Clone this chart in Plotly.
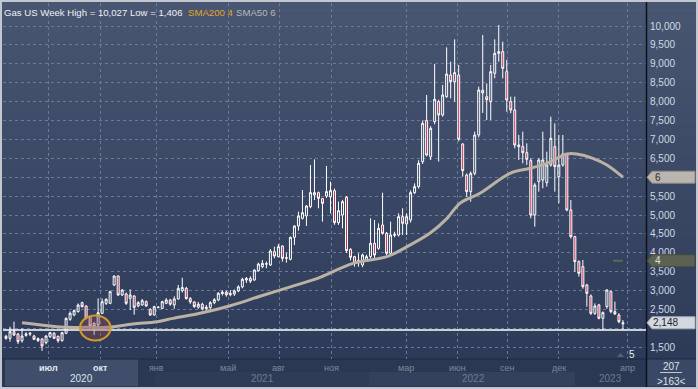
import plotly.graph_objects as go

# ---------------- data (weekly candles) ----------------
opens = [1737, 1737, 1914, 1852, 1676, 1817, 1850, 1799, 1730, 1720,
         1622, 1780, 1870, 1790, 1676, 1870, 2240, 2355, 2443, 2681,
         2593, 2310, 2134, 2090, 2399, 2663, 2663, 3148, 3386, 2884,
         2910, 2795, 2857, 2593, 2620, 2707, 2505, 2355, 2560, 2531,
         2663, 2750, 2620, 2780, 3000, 3060, 2790, 2700, 2560, 2640,
         2520, 2550, 2680, 2750, 2920, 2960, 2890, 2910, 2990, 3100,
         3280, 3320, 3280, 3527, 3633, 3700, 3677, 4030, 3898, 4180,
         3853, 3827, 4409, 4709, 4912, 4974, 5220, 5529, 5591, 5432,
         5503, 5485, 5644, 4798, 5000, 5468, 4092, 3898, 3790, 3678,
         3810, 3898, 4251, 4119, 4736, 4515, 3986, 4460, 4471, 4956,
         4762, 4868, 5591, 5750, 6411, 7496, 6544, 7470, 8000, 7646,
         8131, 8704, 8528, 8704, 6879, 6058, 5618, 6102, 7117, 8300,
         8130, 8000, 8748, 9277, 9321, 8792, 8000, 7778, 6808, 6808,
         6649, 6438, 5000, 5882, 5926, 5856, 6323, 6808, 6014, 6323,
         6614, 5133, 4427, 3766, 3634, 3149, 2858, 2399, 2620, 2267,
         2576, 2972, 2443, 2355, 2120]
highs = [1830, 2046, 2178, 1870, 2002, 1900, 1900, 1830, 1760, 1740,
         1820, 1900, 1900, 1810, 1900, 2290, 2450, 2500, 2660, 2707,
         2610, 2330, 2160, 2795, 2790, 2800, 3000, 3400, 3400, 3040,
         2950, 3034, 2880, 2720, 2780, 2740, 2530, 2600, 2590, 2730,
         2800, 2780, 2850, 3150, 3340, 3100, 2830, 2720, 2700, 2680,
         2620, 2720, 2800, 2960, 3010, 3000, 3010, 3030, 3140, 3340,
         3360, 3380, 3560, 3740, 3810, 3770, 4100, 4162, 4233, 4200,
         4000, 4430, 4730, 5088, 5661, 5260, 6323, 6472, 5620, 5450,
         6297, 5882, 5700, 5353, 5400, 5500, 4120, 3920, 3986, 3980,
         3950, 4912, 4868, 4780, 5591, 4550, 4824, 4560, 5044, 5177,
         5044, 5650, 5838, 6450, 7500, 8175, 7350, 8995, 8050, 8440,
         9436, 9057, 9647, 8969, 6900, 6100, 6150, 7205, 8395, 9762,
         8480, 8969, 9647, 10027, 9586, 9101, 8131, 8131, 7117, 7205,
         6896, 6500, 5850, 6500, 7205, 6676, 7602, 7425, 7117, 7117,
         6632, 5397, 4450, 3800, 3810, 3180, 2900, 2663, 2650, 2450,
         3034, 3000, 2708, 2400, 2220]
lows = [1700, 1649, 1800, 1587, 1622, 1780, 1800, 1690, 1640, 1406,
        1580, 1750, 1720, 1622, 1650, 1850, 2200, 2320, 2420, 2550,
        2240, 2040, 1826, 2050, 2380, 2620, 2640, 3120, 2860, 2860,
        2620, 2487, 2360, 2560, 2600, 2570, 2330, 2340, 2530, 2510,
        2640, 2600, 2520, 2760, 2950, 2760, 2650, 2540, 2520, 2480,
        2470, 2500, 2640, 2720, 2870, 2840, 2850, 2860, 2960, 3060,
        3200, 3200, 3260, 3500, 3590, 3590, 3650, 3853, 3880, 3765,
        3740, 3800, 4206, 4585, 4880, 4709, 5180, 5397, 5176, 4824,
        5450, 5044, 4740, 4740, 4648, 4000, 3800, 3634, 3634, 3620,
        3780, 3850, 3854, 4080, 4480, 3942, 3950, 4410, 4430, 4471,
        4471, 4800, 5550, 5700, 6350, 6550, 6455, 7400, 6412, 7600,
        8100, 8087, 8000, 6950, 6014, 5485, 5353, 6050, 7050, 7700,
        7510, 7514, 8616, 9057, 8616, 7734, 7690, 6764, 6455, 6367,
        6323, 4912, 4692, 5618, 5706, 5750, 6279, 5618, 5309, 6279,
        5100, 4380, 3501, 3369, 3050, 2575, 2355, 2355, 2240, 1958,
        2520, 2400, 2355, 2135, 1960]
closes = [1790, 1914, 1826, 1649, 1799, 1852, 1870, 1711, 1676, 1535,
          1799, 1887, 1737, 1676, 1887, 2266, 2399, 2470, 2619, 2575,
          2266, 2064, 2046, 2416, 2707, 2769, 2972, 3386, 2884, 3016,
          2663, 2884, 2557, 2681, 2734, 2593, 2355, 2575, 2555, 2707,
          2751, 2640, 2780, 3060, 3080, 2790, 2700, 2580, 2640, 2520,
          2560, 2680, 2760, 2930, 2960, 2890, 2920, 2990, 3100, 3300,
          3320, 3250, 3545, 3703, 3720, 3710, 4048, 3915, 4162, 3853,
          3870, 4409, 4709, 4974, 5061, 5238, 5591, 5591, 5441, 5308,
          5618, 5644, 4798, 5115, 5353, 4057, 3880, 3722, 3800, 3942,
          3898, 4251, 3942, 4648, 4515, 3986, 4471, 4480, 4956, 4780,
          4956, 5591, 5750, 6367, 7425, 6588, 7293, 8060, 7646, 8175,
          8730, 8528, 8766, 7002, 6173, 5618, 6102, 7117, 8307, 8230,
          8050, 8792, 9277, 9321, 8880, 8043, 7778, 6852, 6852, 6649,
          6473, 5000, 5794, 6455, 6455, 6323, 7029, 6279, 6323, 6614,
          5133, 4427, 3766, 3457, 3105, 2928, 2399, 2593, 2267, 2417,
          3016, 2443, 2382, 2179, 2148]
weeks = list(range(len(opens)))

# SMA50 line, read at several points (x = candle index)
sma50_idx = [4.0, 11, 15.2, 20.2, 25.2, 31.7, 37.7, 41.7, 48.4, 56, 63.4, 71,
             78.4, 86.6, 95.1, 100.1, 105.8, 110.1, 113.3, 118.3, 125.8, 130.8,
             135, 140, 142.5, 146.5, 150, 154]
sma50_val = [2150, 2064, 2028, 2028, 2028, 2117, 2178, 2266, 2399, 2600, 2850, 3100,
             3351, 3722, 3898, 4163, 4515, 4912, 5309, 5574, 6103, 6235,
             6367, 6614, 6614, 6500, 6323, 6000]
sma200_idx = [151.5, 154]
sma200_val = [3790, 3790]
support_level = 1960

month_pos = [10.73, 23.71, 37.69, 55.42, 68.15, 81.13, 99.85, 112.58, 125.31, 138.04, 155.02]
month_labels = ["июл", "окт", "янв", "май", "авг", "ноя", "мар", "июн", "сен", "дек", "апр"]
year_pos = [18.97, 64.15, 116.6, 151.0]
year_labels = ["2020", "2021", "2022", "2023"]
ytick_vals = list(range(1500, 10001, 500))
hidden_ticks = [2000, 6000]          # covered by the price boxes in the picture
ytick_text = ["" if v in hidden_ticks else f"{v:,}" for v in ytick_vals]

# ---------------- layout helpers ----------------
W, H = 698, 389
ML, MR, MT, MB = 3, 52, 3, 30
PW, PH = W - ML - MR, H - MT - MB
Y0, Y1 = 1190.5, 10608.5
X0, X1 = -0.749, 159.76
UPP = (Y1 - Y0) / PH
FONT = "Liberation Sans, Arial, sans-serif"


def px(x):
    return (x - ML) / PW


def py(y):
    return (H - MB - y) / PH


shapes = []
# base (axis band colour)
shapes.append(dict(type="rect", xref="paper", yref="paper", x0=px(2), x1=px(696),
                   y0=py(387), y1=py(2), fillcolor="#2b3853", line=dict(width=0), layer="below"))
# vertical gradient for the chart + right panel
N = 32
top = (72, 86, 114)
bot = (45, 59, 89)
for k in range(N):
    t = (k + 0.5) / N
    c = tuple(int(round(top[j] + (bot[j] - top[j]) * t)) for j in range(3))
    ya = 2 + (359 - 2) * k / N
    yb = 2 + (359 - 2) * (k + 1) / N
    shapes.append(dict(type="rect", xref="paper", yref="paper", x0=px(2), x1=px(696),
                       y0=py(yb + 0.6), y1=py(ya), fillcolor="rgb(%d,%d,%d)" % c,
                       line=dict(width=0), layer="below"))
# x-axis band boxes
shapes.append(dict(type="rect", xref="paper", yref="paper", x0=px(5), x1=px(138),
                   y0=py(386), y1=py(359), fillcolor="#404e6b", line=dict(width=0), layer="below"))
shapes.append(dict(type="rect", xref="paper", yref="paper", x0=px(155), x1=px(369),
                   y0=py(386), y1=py(372), fillcolor="#2f3c58", line=dict(width=0), layer="below"))
shapes.append(dict(type="rect", xref="paper", yref="paper", x0=px(369), x1=px(575),
                   y0=py(386), y1=py(372), fillcolor="#33415e", line=dict(width=0), layer="below"))
shapes.append(dict(type="rect", xref="paper", yref="paper", x0=px(647), x1=px(696),
                   y0=py(386), y1=py(359), fillcolor="#3a4866", line=dict(width=0), layer="below"))
shapes.append(dict(type="line", xref="paper", yref="paper", x0=px(2), x1=px(696),
                   y0=py(359), y1=py(359), line=dict(color="#1e2940", width=1), layer="below"))
shapes.append(dict(type="line", xref="paper", yref="paper", x0=px(646.5), x1=px(646.5),
                   y0=py(387), y1=py(2), line=dict(color="#0c111c", width=1.5), layer="above"))
# underline in bottom-right cell
shapes.append(dict(type="line", xref="paper", yref="paper", x0=px(660), x1=px(682),
                   y0=py(372.5), y1=py(372.5), line=dict(color="#c3c9d3", width=1), layer="above"))
# support level line
shapes.append(dict(type="line", xref="paper", yref="y", x0=0, x1=1,
                   y0=support_level, y1=support_level, line=dict(color="white", width=1.5), layer="above"))
# highlight ellipse
shapes.append(dict(type="circle", xref="x", yref="y", x0=18.47, x1=26.1, y0=1680, y1=2342,
                   line=dict(color="#d19a2a", width=2), fillcolor="rgba(150,75,80,0.35)", layer="above"))
# small marker triangle near bottom right
shapes.append(dict(type="path", xref="paper", yref="paper",
                   path="M %f %f L %f %f L %f %f Z" % (px(617), py(357), px(620.5), py(353), px(624), py(357)),
                   fillcolor="#56627c", line=dict(width=0), layer="above"))


def price_box(v, fill, line_col):
    hh = 6 * UPP
    p = "M %f %f L %f %f L %f %f L %f %f L %f %f Z" % (
        px(647), v, px(652), v + hh, px(695), v + hh, px(695), v - hh, px(652), v - hh)
    return dict(type="path", xref="paper", yref="y", path=p, fillcolor=fill,
                line=dict(color=line_col, width=1), layer="above")


shapes.append(price_box(sma50_val[-1], "#bab6af", "#8f8b85"))
shapes.append(price_box(sma200_val[-1], "#5b6252", "#454b3e"))
shapes.append(price_box(closes[-1], "#d3d8e0", "#a9b0bb"))

annotations = []


def ann(text, x, y, color, size=10, xanchor="left", xref="paper", yref="paper", bold=False):
    annotations.append(dict(text=("<b>%s</b>" % text) if bold else text, x=x, y=y, xref=xref, yref=yref,
                            xanchor=xanchor, yanchor="middle", showarrow=False,
                            font=dict(family=FONT, size=size, color=color)))


ann("Gas US Week High = %s Low = %s" % (f"{max(highs):,}", f"{min(lows):,}"), px(2), py(12), "#eef1f5", 9.6)
ann("SMA200 4", px(186), py(12), "#e6a525", 9.6)
ann("SMA50 6", px(234), py(12), "#b9b9b9", 9.6)

for i, (pos, lab) in enumerate(zip(month_pos, month_labels)):
    col = "#e4e8ef" if i < 2 else "#7d889d"
    ann(lab, pos, py(368), col, 9, "center", "x", "paper", bold=(i < 2))
for i, (pos, lab) in enumerate(zip(year_pos, year_labels)):
    col = "#dde2ea" if i == 0 else "#6f7a90"
    ann(lab, pos, py(378.5), col, 10, "center", "x", "paper")

ann("6", px(653), sma50_val[-1], "#2a2a2a", 10, "left", "paper", "y")
ann("4", px(653), sma200_val[-1], "#dfe2dc", 10, "left", "paper", "y")
ann(f"{closes[-1]:,}", px(651), closes[-1], "#1e2430", 10, "left", "paper", "y")
ann("5", px(627), py(354), "#e8ecf2", 10)
ann("207", px(671), py(366), "#dde2ea", 10, "center")
ann("&gt;163&lt;", px(671), py(381), "#dde2ea", 10, "center")

fig = go.Figure()
fig.add_trace(go.Candlestick(
    x=weeks, open=opens, high=highs, low=lows, close=closes,
    increasing=dict(line=dict(color="white", width=1), fillcolor="rgba(0,0,0,0)"),
    decreasing=dict(line=dict(color="white", width=1), fillcolor="#bf2f50"),
    whiskerwidth=0, hoverinfo="skip", showlegend=False))
fig.add_trace(go.Scatter(x=sma50_idx, y=sma50_val, mode="lines",
                         line=dict(color="#bab2a4", width=3, shape="spline", smoothing=1.0),
                         hoverinfo="skip", showlegend=False))
fig.add_trace(go.Scatter(x=sma200_idx, y=sma200_val, mode="lines",
                         line=dict(color="#5f6656", width=2), hoverinfo="skip", showlegend=False))

fig.update_layout(
    width=W, height=H, margin=dict(l=ML, r=MR, t=MT, b=MB),
    paper_bgcolor="#c3c8d0", plot_bgcolor="rgba(0,0,0,0)",
    showlegend=False, shapes=shapes, annotations=annotations,
    xaxis=dict(range=[X0, X1], tickvals=month_pos, showticklabels=False, ticks="",
               showgrid=True, gridcolor="#6a7a9b", griddash="3px,3px", gridwidth=1,
               zeroline=False, showline=False, rangeslider=dict(visible=False), fixedrange=True),
    yaxis=dict(range=[Y0, Y1], side="right", tickvals=ytick_vals, ticktext=ytick_text,
               tickfont=dict(family=FONT, size=10, color="#d4d9e2"), ticks="",
               ticklabelstandoff=3,
               showgrid=True, gridcolor="#6a7a9b", griddash="3px,3px", gridwidth=1,
               zeroline=False, showline=False, fixedrange=True),
)

fig.write_html("out.html", config={"displayModeBar": False},
               post_script="document.body.style.margin='0';document.body.style.overflow='hidden';")
